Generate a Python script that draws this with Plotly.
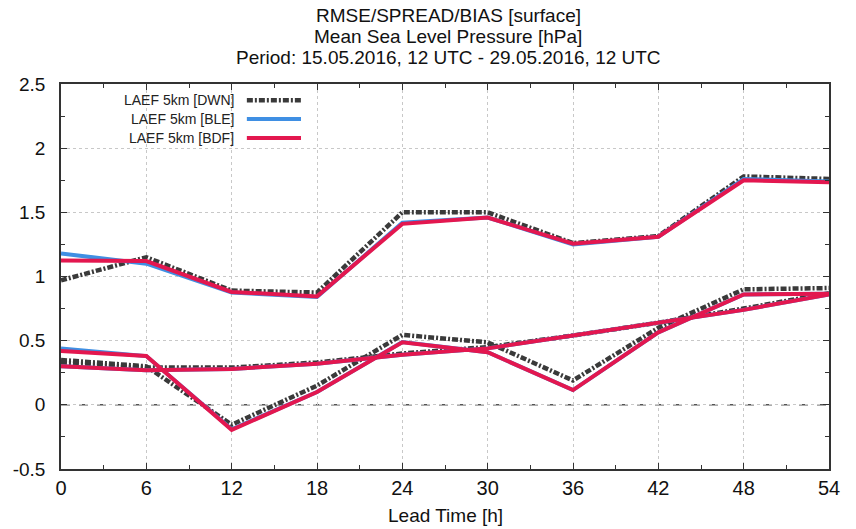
import plotly.graph_objects as go

lead_time = [0, 6, 12, 18, 24, 30, 36, 42, 48, 54]

# RMSE
rmse_dwn = [0.97, 1.15, 0.89, 0.875, 1.50, 1.50, 1.26, 1.315, 1.78, 1.76]
rmse_ble = [1.18, 1.10, 0.875, 0.84, 1.42, 1.46, 1.25, 1.31, 1.76, 1.74]
rmse_bdf = [1.125, 1.12, 0.88, 0.845, 1.41, 1.46, 1.255, 1.31, 1.75, 1.735]

# SPREAD
spread_dwn = [0.33, 0.29, 0.29, 0.33, 0.40, 0.45, 0.54, 0.64, 0.75, 0.87]
spread_ble = [0.30, 0.27, 0.28, 0.32, 0.39, 0.44, 0.54, 0.64, 0.74, 0.86]
spread_bdf = [0.30, 0.27, 0.28, 0.32, 0.39, 0.44, 0.54, 0.64, 0.74, 0.86]

# BIAS
bias_dwn = [0.35, 0.30, -0.155, 0.15, 0.545, 0.487, 0.19, 0.60, 0.90, 0.91]
bias_ble = [0.44, 0.38, -0.19, 0.10, 0.49, 0.41, 0.115, 0.565, 0.86, 0.865]
bias_bdf = [0.42, 0.38, -0.195, 0.10, 0.487, 0.41, 0.115, 0.565, 0.86, 0.865]

names = ["LAEF 5km [DWN]", "LAEF 5km [BLE]", "LAEF 5km [BDF]"]
title_lines = [
    "RMSE/SPREAD/BIAS [surface]",
    "Mean Sea Level Pressure [hPa]",
    "Period: 15.05.2016, 12 UTC - 29.05.2016, 12 UTC",
]
x_title = "Lead Time [h]"
y_ticks = [-0.5, 0, 0.5, 1, 1.5, 2, 2.5]
y_ticktext = ["-0.5", "0", "0.5", "1", "1.5", "2", "2.5"]

styles = [
    dict(color="#3a3a3a", width=4.5, dash="6px,2px,2px,2px"),
    dict(color="#3f8fe3", width=4),
    dict(color="#e3174f", width=4),
]
series = [
    [rmse_dwn, spread_dwn, bias_dwn],
    [rmse_ble, spread_ble, bias_ble],
    [rmse_bdf, spread_bdf, bias_bdf],
]

fig = go.Figure()

# zero reference line
fig.add_hline(y=0, line=dict(color="black", width=1, dash="dash"), layer="below")

for name, style, group in zip(names, styles, series):
    for vals in group:
        fig.add_trace(
            go.Scatter(
                x=lead_time,
                y=vals,
                mode="lines",
                name=name,
                line=style,
                showlegend=False,
            )
        )

# gnuplot style legend: text right aligned, sample line on the right
legend_y = [0.958, 0.909, 0.860]
for name, style, ly in zip(names, styles, legend_y):
    fig.add_annotation(
        x=0.228, y=ly, xref="paper", yref="paper",
        text=name, showarrow=False, xanchor="right", yanchor="middle",
        font=dict(size=14, color="#222222"),
    )
    fig.add_shape(
        type="line", xref="paper", yref="paper",
        x0=0.242, x1=0.3125, y0=ly, y1=ly, line=style,
    )

# three title lines, tightly spaced
for txt, ty in zip(title_lines, [1.177, 1.123, 1.070]):
    fig.add_annotation(
        x=0.504, y=ty, xref="paper", yref="paper",
        text=txt, showarrow=False, xanchor="center", yanchor="middle",
        font=dict(size=19, color="#111111"),
    )

# x axis title
fig.add_annotation(
    x=0.5, y=-0.122, xref="paper", yref="paper",
    text=x_title, showarrow=False, xanchor="center", yanchor="middle",
    font=dict(size=19, color="#111111"),
)

fig.update_layout(
    width=856,
    height=529,
    margin=dict(l=61, r=27, t=84, b=60),
    plot_bgcolor="white",
    paper_bgcolor="white",
    font=dict(family="Liberation Sans, Arial, sans-serif", size=19, color="#111111"),
    showlegend=False,
)

fig.update_xaxes(
    range=[0, 54],
    tickvals=lead_time,
    tickfont=dict(size=20),
    ticks="inside",
    ticklen=6,
    tickcolor="#333333",
    mirror="allticks",
    showline=True,
    linecolor="#333333",
    linewidth=1.5,
    showgrid=True,
    gridcolor="#c8c8c8",
    griddash="dot",
    zeroline=False,
    automargin=False,
    minor=dict(dtick=3, ticks="inside", ticklen=4, tickcolor="#333333", showgrid=False),
)
fig.update_yaxes(
    range=[-0.5, 2.5],
    tickvals=y_ticks,
    ticktext=y_ticktext,
    ticks="inside",
    ticklen=6,
    tickcolor="#333333",
    mirror="allticks",
    showline=True,
    linecolor="#333333",
    linewidth=1.5,
    showgrid=True,
    gridcolor="#c8c8c8",
    griddash="dot",
    zeroline=False,
    automargin=False,
    ticklabelstandoff=10,
    minor=dict(dtick=0.25, ticks="inside", ticklen=4, tickcolor="#333333", showgrid=False),
)

fig.write_html(
    "out.html",
    config={"displayModeBar": False},
    post_script="document.body.style.margin='0';",
)
